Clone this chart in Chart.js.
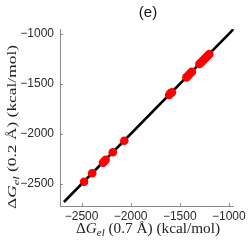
<!DOCTYPE html>
<html>
<head>
<meta charset="utf-8">
<script src="https://cdn.jsdelivr.net/npm/chart.js@4.4.1/dist/chart.umd.min.js"></script>
<style>
  html, body { margin: 0; padding: 0; background: #fff; }
  canvas { display: block; }
</style>
</head>
<body>
<canvas id="gelChart" width="249" height="240"></canvas>
<script>
// values
const xVals = [-2475, -2392, -2282, -2268, -2255, -2182, -2065, -1608, -1595, -1580,
               -1432, -1418, -1404, -1390, -1376, -1300, -1285, -1270, -1255, -1240, -1225, -1210, -1198];
const yVals = [-2477, -2393, -2288, -2272, -2258, -2182, -2068, -1610, -1594, -1582,
               -1434, -1420, -1405, -1390, -1377, -1300, -1287, -1272, -1257, -1242, -1227, -1212, -1200];
const fitX = [-2680, -950];
const fitY = [-2680, -950];
const xTicks = [-2500, -2000, -1500, -1000];
const yTicks = [-2500, -2000, -1500, -1000];
const axisMin = -2720;
const axisMax = -950;

const fmt = v => String(v).replace('-', '\u2212');

// draws the title, inward tick marks and the latex-ish axis titles
const decorations = {
    id: 'decorations',
    afterDraw(chart) {
        const ctx = chart.ctx;
        const area = chart.chartArea;
        const xs = chart.scales.x, ys = chart.scales.y;
        ctx.save();

        ctx.strokeStyle = '#8a8a8a';
        ctx.lineWidth = 1;
        xTicks.forEach(v => {
            const px = Math.round(xs.getPixelForValue(v)) + 0.5;
            ctx.beginPath();
            ctx.moveTo(px, area.bottom);
            ctx.lineTo(px, area.bottom - 3);
            ctx.stroke();
        });
        yTicks.forEach(v => {
            const py = Math.round(ys.getPixelForValue(v)) + 0.5;
            ctx.beginPath();
            ctx.moveTo(area.left, py);
            ctx.lineTo(area.left + 3, py);
            ctx.stroke();
        });

        ctx.fillStyle = '#111';
        ctx.font = '15px "Liberation Sans", sans-serif';
        ctx.textAlign = 'center';
        ctx.textBaseline = 'alphabetic';
        ctx.fillText('(e)', 148, 17);

        function title(rest) {
            const parts = [
                { t: '\u0394', f: '14px "Liberation Serif", serif', dy: 0 },
                { t: 'G', f: 'italic 14px "Liberation Serif", serif', dy: 0 },
                { t: 'el', f: 'italic 10px "Liberation Serif", serif', dy: 3 },
                { t: rest, f: '14px "Liberation Serif", serif', dy: 0 }
            ];
            let w = 0;
            parts.forEach(p => { ctx.font = p.f; p.w = ctx.measureText(p.t).width; w += p.w; });
            return { parts, w };
        }
        function drawTitle(tt, len, thick) {
            ctx.scale(len / tt.w, thick);
            let x = -tt.w / 2;
            ctx.textAlign = 'left';
            tt.parts.forEach(p => {
                ctx.font = p.f;
                ctx.fillText(p.t, x, p.dy);
                x += p.w;
            });
        }

        ctx.fillStyle = '#222';
        ctx.save();
        ctx.translate(148, 233);
        drawTitle(title(' (0.7 \u00c5) (kcal/mol)'), 144, 1);
        ctx.restore();

        ctx.save();
        ctx.translate(16, 127);
        ctx.rotate(-Math.PI / 2);
        drawTitle(title(' (0.2 \u00c5) (kcal/mol)'), 164, 0.88);
        ctx.restore();

        ctx.restore();
    }
};

const points = xVals.map((x, i) => ({ x: x, y: yVals[i] }));
const fitLine = fitX.map((x, i) => ({ x: x, y: fitY[i] }));

new Chart(document.getElementById('gelChart'), {
    type: 'scatter',
    data: {
        datasets: [{
            data: points,
            backgroundColor: '#ff0000',
            borderWidth: 0,
            pointRadius: 4.3,
            order: 0
        }, {
            type: 'line',
            data: fitLine,
            borderColor: '#000',
            borderWidth: 2.6,
            pointRadius: 0,
            fill: false,
            order: 1
        }]
    },
    options: {
        responsive: false,
        animation: false,
        layout: { padding: { left: 0, top: 29, right: 12, bottom: 0 } },
        plugins: { legend: { display: false }, tooltip: { enabled: false } },
        scales: {
            x: {
                type: 'linear',
                min: axisMin,
                max: axisMax,
                afterBuildTicks: s => { s.ticks = xTicks.map(v => ({ value: v })); },
                afterFit: s => { s.height = 34; },
                grid: { drawOnChartArea: false, drawTicks: false },
                border: { color: '#8a8a8a', width: 1 },
                ticks: {
                    callback: fmt,
                    color: '#2a2a2a',
                    padding: 3,
                    maxRotation: 0,
                    font: { family: '"Liberation Sans", sans-serif', size: 12 }
                }
            },
            y: {
                type: 'linear',
                min: axisMin,
                max: axisMax,
                afterBuildTicks: s => { s.ticks = yTicks.map(v => ({ value: v })); },
                afterFit: s => { s.width = 60; },
                grid: { drawOnChartArea: false, drawTicks: false },
                border: { color: '#8a8a8a', width: 1 },
                ticks: {
                    callback: fmt,
                    color: '#2a2a2a',
                    padding: 6,
                    font: { family: '"Liberation Sans", sans-serif', size: 12 }
                }
            }
        }
    },
    plugins: [decorations]
});
</script>
</body>
</html>
